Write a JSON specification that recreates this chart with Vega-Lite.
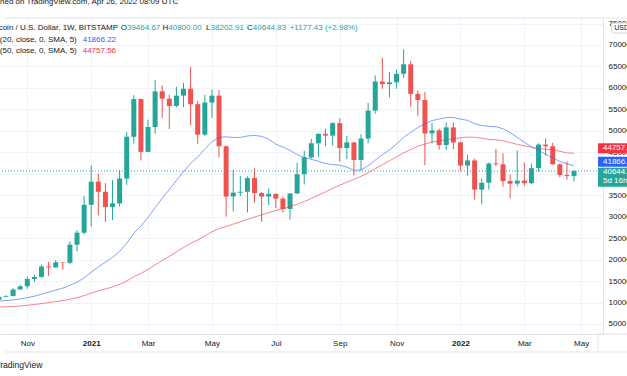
{
  "$schema": "https://vega.github.io/schema/vega-lite/v6.json",
  "width": 603,
  "height": 316,
  "autosize": {"type": "none"},
  "padding": {"left": 0, "top": 18, "right": 24, "bottom": 42},
  "background": "#ffffff",
  "config": {
    "font": "Liberation Sans",
    "view": {"stroke": null},
    "axis": {"labelOverlap": false, "labelFlush": false, "labelBound": false, "ticks": false, "domainColor": "#e0e3eb", "gridColor": "#f0f3fa", "labelFontSize": 8, "labelColor": "#131722", "labelPadding": 5, "tickCount": 40}
  },
  "title": {"text": "Published on TradingView.com, Apr 26, 2022 08:09 UTC", "anchor": "start", "frame": "group", "orient": "top", "offset": 8, "baseline": "middle", "dx": -21.8, "fontSize": 8, "fontWeight": "normal", "color": "#131722"},
  "datasets": {
    "bars": [
      {"d":"2020-10-05","o":10670,"h":11490,"l":10530,"c":11370,"m20":10334,"m50":8950},
      {"d":"2020-10-12","o":11370,"h":11720,"l":11200,"c":11530,"m20":10438,"m50":8997},
      {"d":"2020-10-19","o":11530,"h":13350,"l":11420,"c":13030,"m20":10602,"m50":9081},
      {"d":"2020-10-26","o":13030,"h":14100,"l":12980,"c":13780,"m20":10824,"m50":9187},
      {"d":"2020-11-02","o":13780,"h":15960,"l":13200,"c":15480,"m20":11133,"m50":9358},
      {"d":"2020-11-09","o":15480,"h":16480,"l":14800,"c":15970,"m20":11475,"m50":9529},
      {"d":"2020-11-16","o":15970,"h":18800,"l":15800,"c":18400,"m20":11942,"m50":9747},
      {"d":"2020-11-23","o":18400,"h":19480,"l":16200,"c":18180,"m20":12389,"m50":9969},
      {"d":"2020-11-30","o":18180,"h":19900,"l":18100,"c":19360,"m20":12899,"m50":10206},
      {"d":"2020-12-07","o":19360,"h":19420,"l":17600,"c":19270,"m20":13365,"m50":10444},
      {"d":"2020-12-14","o":19270,"h":24250,"l":19000,"c":23480,"m20":13986,"m50":10758},
      {"d":"2020-12-21","o":23480,"h":26870,"l":21900,"c":26270,"m20":14715,"m50":11120},
      {"d":"2020-12-28","o":26270,"h":34800,"l":25900,"c":32780,"m20":15761,"m50":11602},
      {"d":"2021-01-04","o":32780,"h":41950,"l":27700,"c":38150,"m20":17086,"m50":12193},
      {"d":"2021-01-11","o":38150,"h":40100,"l":30300,"c":35800,"m20":18291,"m50":12722},
      {"d":"2021-01-18","o":35800,"h":37850,"l":28800,"c":32250,"m20":19391,"m50":13164},
      {"d":"2021-01-25","o":32250,"h":38500,"l":29200,"c":33100,"m20":20529,"m50":13628},
      {"d":"2021-02-01","o":33100,"h":40900,"l":32300,"c":38900,"m20":21928,"m50":14212},
      {"d":"2021-02-08","o":38900,"h":49700,"l":37400,"c":48600,"m20":23819,"m50":15014},
      {"d":"2021-02-15","o":48600,"h":58300,"l":47000,"c":57400,"m20":26155,"m50":16001},
      {"d":"2021-02-22","o":57400,"h":57500,"l":43100,"c":45100,"m20":27842,"m50":16796},
      {"d":"2021-03-01","o":45100,"h":52600,"l":45000,"c":50900,"m20":29810,"m50":17697},
      {"d":"2021-03-08","o":50900,"h":61800,"l":49300,"c":59200,"m20":32119,"m50":18763},
      {"d":"2021-03-15","o":59200,"h":60600,"l":53000,"c":57500,"m20":34305,"m50":19778},
      {"d":"2021-03-22","o":57500,"h":58400,"l":50400,"c":55800,"m20":36321,"m50":20756},
      {"d":"2021-03-29","o":55800,"h":60200,"l":55500,"c":58200,"m20":38432,"m50":21777},
      {"d":"2021-04-05","o":58200,"h":61200,"l":55500,"c":59800,"m20":40502,"m50":22819},
      {"d":"2021-04-12","o":59800,"h":64900,"l":51300,"c":56200,"m20":42403,"m50":23765},
      {"d":"2021-04-19","o":56200,"h":57000,"l":47000,"c":49100,"m20":43890,"m50":24572},
      {"d":"2021-04-26","o":49100,"h":58400,"l":48800,"c":56600,"m20":45757,"m50":25511},
      {"d":"2021-05-03","o":56600,"h":59600,"l":53000,"c":58200,"m20":47493,"m50":26500},
      {"d":"2021-05-10","o":58200,"h":59500,"l":43800,"c":46400,"m20":48499,"m50":27239},
      {"d":"2021-05-17","o":46400,"h":46600,"l":30000,"c":34700,"m20":48595,"m50":27738},
      {"d":"2021-05-24","o":34700,"h":40900,"l":31200,"c":35600,"m20":48468,"m50":28263},
      {"d":"2021-05-31","o":35600,"h":39500,"l":34800,"c":35800,"m20":48468,"m50":28793},
      {"d":"2021-06-07","o":35800,"h":39400,"l":31000,"c":39000,"m20":48805,"m50":29391},
      {"d":"2021-06-14","o":39000,"h":41300,"l":33300,"c":35500,"m20":48925,"m50":29919},
      {"d":"2021-06-21","o":35500,"h":35800,"l":28800,"c":34700,"m20":48715,"m50":30429},
      {"d":"2021-06-28","o":34700,"h":36600,"l":32700,"c":35300,"m20":48050,"m50":30951},
      {"d":"2021-07-05","o":35300,"h":35400,"l":32000,"c":34200,"m20":46890,"m50":31437},
      {"d":"2021-07-12","o":34200,"h":34700,"l":31000,"c":31800,"m20":46225,"m50":31851},
      {"d":"2021-07-19","o":31800,"h":35500,"l":29300,"c":35400,"m20":45450,"m50":32326},
      {"d":"2021-07-26","o":35400,"h":42600,"l":35300,"c":39900,"m20":44485,"m50":32886},
      {"d":"2021-08-02","o":39900,"h":45300,"l":37500,"c":43800,"m20":43800,"m50":33529},
      {"d":"2021-08-09","o":43800,"h":48100,"l":43500,"c":47100,"m20":43365,"m50":34237},
      {"d":"2021-08-16","o":47100,"h":49400,"l":43900,"c":49300,"m20":42920,"m50":35018},
      {"d":"2021-08-23","o":49300,"h":50500,"l":46400,"c":48900,"m20":42375,"m50":35790},
      {"d":"2021-08-30","o":48900,"h":52000,"l":46600,"c":51800,"m20":42155,"m50":36607},
      {"d":"2021-09-06","o":51800,"h":52900,"l":42800,"c":46000,"m20":42000,"m50":37311},
      {"d":"2021-09-13","o":46000,"h":48800,"l":43400,"c":47300,"m20":41535,"m50":38044},
      {"d":"2021-09-20","o":47300,"h":47400,"l":39600,"c":43200,"m20":40785,"m50":38681},
      {"d":"2021-09-27","o":43200,"h":49200,"l":40800,"c":48200,"m20":40875,"m50":39414},
      {"d":"2021-10-04","o":48200,"h":56500,"l":47100,"c":54700,"m20":41875,"m50":40247},
      {"d":"2021-10-11","o":54700,"h":62900,"l":54000,"c":61500,"m20":43170,"m50":41202},
      {"d":"2021-10-18","o":61500,"h":67000,"l":59800,"c":60900,"m20":44425,"m50":42110},
      {"d":"2021-10-25","o":60900,"h":63700,"l":57800,"c":61300,"m20":45540,"m50":43017},
      {"d":"2021-11-01","o":61300,"h":64300,"l":59800,"c":63300,"m20":46930,"m50":43915},
      {"d":"2021-11-08","o":63300,"h":69000,"l":62300,"c":65500,"m20":48470,"m50":44861},
      {"d":"2021-11-15","o":65500,"h":66300,"l":55600,"c":58600,"m20":49635,"m50":45646},
      {"d":"2021-11-22","o":58600,"h":59400,"l":53500,"c":57200,"m20":50785,"m50":46405},
      {"d":"2021-11-29","o":57200,"h":59100,"l":42000,"c":49400,"m20":51665,"m50":46923},
      {"d":"2021-12-06","o":49400,"h":51900,"l":47100,"c":50100,"m20":52400,"m50":47400},
      {"d":"2021-12-13","o":50100,"h":50500,"l":45600,"c":46700,"m20":52740,"m50":47678},
      {"d":"2021-12-20","o":46700,"h":51900,"l":45600,"c":50800,"m20":53090,"m50":47931},
      {"d":"2021-12-27","o":50800,"h":52000,"l":45700,"c":47300,"m20":53100,"m50":48161},
      {"d":"2022-01-03","o":47300,"h":47500,"l":40600,"c":41900,"m20":52730,"m50":48354},
      {"d":"2022-01-10","o":41900,"h":44400,"l":39600,"c":43100,"m20":52440,"m50":48554},
      {"d":"2022-01-17","o":43100,"h":43500,"l":34000,"c":36300,"m20":51665,"m50":48502},
      {"d":"2022-01-24","o":36300,"h":38900,"l":32900,"c":37900,"m20":51260,"m50":48288},
      {"d":"2022-01-31","o":37900,"h":42600,"l":36300,"c":42400,"m20":51015,"m50":47988},
      {"d":"2022-02-07","o":42400,"h":45800,"l":41700,"c":42200,"m20":50965,"m50":47930},
      {"d":"2022-02-14","o":42200,"h":44800,"l":37000,"c":38300,"m20":50470,"m50":47678},
      {"d":"2022-02-21","o":38300,"h":39800,"l":34300,"c":37700,"m20":49620,"m50":47248},
      {"d":"2022-02-28","o":37700,"h":45400,"l":37100,"c":38400,"m20":48465,"m50":46866},
      {"d":"2022-03-07","o":38400,"h":42600,"l":37200,"c":37800,"m20":47310,"m50":46506},
      {"d":"2022-03-14","o":37800,"h":42400,"l":37600,"c":41300,"m20":46310,"m50":46168},
      {"d":"2022-03-21","o":41300,"h":47100,"l":40500,"c":46800,"m20":45485,"m50":45908},
      {"d":"2022-03-28","o":46800,"h":48200,"l":44300,"c":46400,"m20":44530,"m50":45712},
      {"d":"2022-04-04","o":46400,"h":47200,"l":42100,"c":42200,"m20":43710,"m50":45574},
      {"d":"2022-04-11","o":42200,"h":42400,"l":39200,"c":39700,"m20":42835,"m50":45236},
      {"d":"2022-04-18","o":39700,"h":42900,"l":38600,"c":39460,"m20":42338,"m50":44861},
      {"d":"2022-04-25","o":39464.67,"h":40800,"l":38202.91,"c":40644.83,"m20":41866.22,"m50":44757.56}
    ],
    "tags": [
      {"name":"ma50","p":44757.56,"t":"44757.56"},
      {"name":"ma20","p":41866.22,"t":"41866.22"},
      {"name":"last","p":40644.83,"t":"40644.83","sub":"5d 16h"},
      {"name":"currency","p":75000,"t":"USD"}
    ],
    "legend": [
      {"k":"label","t":"Bitcoin / U.S. Dollar, 1W, BITSTAMP","d":"2021-01-30T12:00:00Z","p":73961},
      {"k":"label","t":"O","d":"2021-02-08T05:00:00Z","p":73961},
      {"k":"ohlc","t":"39464.67","d":"2021-02-08T05:00:00Z","p":73961},
      {"k":"label","t":"H","d":"2021-03-20T22:30:00Z","p":73961},
      {"k":"ohlc","t":"40800.00","d":"2021-03-20T22:30:00Z","p":73961},
      {"k":"label","t":"L","d":"2021-05-01T15:00:00Z","p":73961},
      {"k":"ohlc","t":"38202.91","d":"2021-05-01T15:00:00Z","p":73961},
      {"k":"label","t":"C","d":"2021-06-12T07:40:00Z","p":73961},
      {"k":"ohlc","t":"40644.83","d":"2021-06-12T07:40:00Z","p":73961},
      {"k":"ohlc","t":"+1177.43 (+2.98%)","d":"2021-07-18T16:20:00Z","p":73961},
      {"k":"label","t":"MA (20, close, 0, SMA, 5)","d":"2020-12-20T18:40:00Z","p":71095},
      {"k":"ma20","t":"41866.22","d":"2020-12-26T14:10:00Z","p":71095},
      {"k":"label","t":"MA (50, close, 0, SMA, 5)","d":"2020-12-20T18:40:00Z","p":68602},
      {"k":"ma50","t":"44757.56","d":"2020-12-26T14:10:00Z","p":68602}
    ]
  },
  "layer": [
    {
      "data": {"name": "bars"},
      "mark": {"type": "rule", "strokeWidth": 1},
      "encoding": {
        "x": {"field": "d", "type": "temporal",
          "scale": {"type": "utc", "domain": [{"year":2020,"month":10,"date":11,"utc":true},{"year":2022,"month":5,"date":18,"hours":15,"utc":true}]},
          "axis": {"orient": "bottom", "title": "TradingView", "titleAnchor": "start", "titleAlign": "left", "titleX": -5.3, "titleY": 30, "titleBaseline": "middle", "titleFontWeight": "normal", "titleFontSize": 8.6, "titleColor": "#131722",
            "tickCount": 40,
            "values": [{"year":2020,"month":11,"date":2,"utc":true},{"year":2021,"month":1,"date":4,"utc":true},{"year":2021,"month":3,"date":1,"utc":true},{"year":2021,"month":5,"date":3,"utc":true},{"year":2021,"month":7,"date":5,"utc":true},{"year":2021,"month":9,"date":6,"utc":true},{"year":2021,"month":11,"date":1,"utc":true},{"year":2022,"month":1,"date":3,"utc":true},{"year":2022,"month":3,"date":7,"utc":true},{"year":2022,"month":5,"date":2,"utc":true}],
            "labelExpr": "utcmonth(datum.value) == 0 ? utcFormat(datum.value, '%Y') : utcFormat(datum.value, '%b')",
            "labelFontWeight": {"condition": {"test": "utcmonth(datum.value) == 0", "value": "bold"}, "value": "normal"},
            "grid": true}},
        "y": {"field": "l", "type": "quantitative", "title": null,
          "scale": {"domain": [2666, 76290], "nice": false, "zero": false},
          "axis": {"orient": "right", "tickCount": 40, "values": [5000,10000,15000,20000,25000,30000,35000,40000,45000,50000,55000,60000,65000,70000,75000],
            "format": "d", "labelOverlap": false, "grid": true}},
        "y2": {"field": "h"},
        "color": {"condition": {"test": "datum.c < datum.o", "value": "#ef5350"}, "value": "#26a69a"}
      }
    },
    {
      "data": {"values": [{"edge": "top"}]},
      "mark": {"type": "rule", "strokeWidth": 1, "color": "#e0e3eb"},
      "encoding": {
        "x": {"datum": {"year":2020,"month":10,"date":11,"utc":true}, "type": "temporal", "scale": {"type": "utc", "domain": [{"year":2020,"month":10,"date":11,"utc":true},{"year":2022,"month":5,"date":18,"hours":15,"utc":true}]}},
        "x2": {"datum": {"year":2022,"month":6,"date":30,"utc":true}},
        "y": {"datum": 76290, "type": "quantitative", "scale": {"domain": [2666, 76290], "nice": false, "zero": false}}
      }
    },
    {
      "data": {"values": [{"edge": "axis"}]},
      "mark": {"type": "rule", "strokeWidth": 1, "color": "#e0e3eb"},
      "encoding": {
        "x": {"datum": {"year":2022,"month":5,"date":18,"hours":15,"utc":true}, "type": "temporal", "scale": {"type": "utc", "domain": [{"year":2020,"month":10,"date":11,"utc":true},{"year":2022,"month":5,"date":18,"hours":15,"utc":true}]}},
        "x2": {"datum": {"year":2022,"month":6,"date":30,"utc":true}},
        "y": {"datum": 2666, "type": "quantitative", "scale": {"domain": [2666, 76290], "nice": false, "zero": false}}
      }
    },
    {
      "data": {"values": [{"edge": "bottom"}]},
      "mark": {"type": "rule", "strokeWidth": 1, "color": "#e0e3eb"},
      "encoding": {
        "x": {"datum": {"year":2020,"month":10,"date":11,"utc":true}, "type": "temporal", "scale": {"type": "utc", "domain": [{"year":2020,"month":10,"date":11,"utc":true},{"year":2022,"month":5,"date":18,"hours":15,"utc":true}]}},
        "x2": {"datum": {"year":2022,"month":6,"date":30,"utc":true}},
        "y": {"datum": -1528, "type": "quantitative", "scale": {"domain": [2666, 76290], "nice": false, "zero": false}}
      }
    },
    {
      "data": {"values": [{"edge": "separator"}]},
      "mark": {"type": "rule", "strokeWidth": 1, "color": "#e0e3eb"},
      "encoding": {
        "x": {"datum": {"year":2022,"month":5,"date":18,"hours":15,"utc":true}, "type": "temporal", "scale": {"type": "utc", "domain": [{"year":2020,"month":10,"date":11,"utc":true},{"year":2022,"month":5,"date":18,"hours":15,"utc":true}]}},
        "y": {"datum": 2666, "type": "quantitative", "scale": {"domain": [2666, 76290], "nice": false, "zero": false}},
        "y2": {"datum": -1528}
      }
    },
    {
      "data": {"name": "bars"},
      "mark": {"type": "bar", "size": 5},
      "encoding": {
        "x": {"field": "d", "type": "temporal", "scale": {"type": "utc", "domain": [{"year":2020,"month":10,"date":11,"utc":true},{"year":2022,"month":5,"date":18,"hours":15,"utc":true}]}},
        "y": {"field": "o", "type": "quantitative", "title": null, "scale": {"domain": [2666, 76290], "nice": false, "zero": false}},
        "y2": {"field": "c"},
        "color": {"condition": {"test": "datum.c < datum.o", "value": "#ef5350"}, "value": "#26a69a"}
      }
    },
    {
      "data": {"name": "bars"},
      "mark": {"type": "line", "strokeWidth": 1, "color": "#2962ff", "opacity": 0.6},
      "encoding": {
        "x": {"field": "d", "type": "temporal", "scale": {"type": "utc", "domain": [{"year":2020,"month":10,"date":11,"utc":true},{"year":2022,"month":5,"date":18,"hours":15,"utc":true}]}},
        "y": {"field": "m20", "type": "quantitative", "title": null, "scale": {"domain": [2666, 76290], "nice": false, "zero": false}}
      }
    },
    {
      "data": {"name": "bars"},
      "mark": {"type": "line", "strokeWidth": 1, "color": "#f23645", "opacity": 0.6},
      "encoding": {
        "x": {"field": "d", "type": "temporal", "scale": {"type": "utc", "domain": [{"year":2020,"month":10,"date":11,"utc":true},{"year":2022,"month":5,"date":18,"hours":15,"utc":true}]}},
        "y": {"field": "m50", "type": "quantitative", "title": null, "scale": {"domain": [2666, 76290], "nice": false, "zero": false}}
      }
    },
    {
      "data": {"name": "tags"},
      "transform": [{"filter": "datum.name == 'last'"}],
      "mark": {"type": "rule", "strokeWidth": 1, "strokeDash": [1, 2], "color": "#26a69a"},
      "encoding": {
        "y": {"field": "p", "type": "quantitative", "title": null, "scale": {"domain": [2666, 76290], "nice": false, "zero": false}}
      }
    },
    {
      "data": {"name": "tags"},
      "transform": [{"filter": "datum.name == 'ma50'"}],
      "mark": {"type": "rect", "color": "#f23645", "yOffset": -10, "y2Offset": 0},
      "encoding": {
        "x": {"datum": {"year":2022,"month":5,"date":18,"hours":15,"utc":true}, "type": "temporal", "scale": {"type": "utc", "domain": [{"year":2020,"month":10,"date":11,"utc":true},{"year":2022,"month":5,"date":18,"hours":15,"utc":true}]}},
        "x2": {"datum": {"year":2022,"month":6,"date":30,"utc":true}},
        "y": {"field": "p", "type": "quantitative", "title": null, "scale": {"domain": [2666, 76290], "nice": false, "zero": false}},
        "y2": {"field": "p"}
      }
    },
    {
      "data": {"name": "tags"},
      "transform": [{"filter": "datum.name == 'ma20'"}],
      "mark": {"type": "rect", "color": "#2962ff", "yOffset": -9, "y2Offset": 1},
      "encoding": {
        "x": {"datum": {"year":2022,"month":5,"date":18,"hours":15,"utc":true}, "type": "temporal", "scale": {"type": "utc", "domain": [{"year":2020,"month":10,"date":11,"utc":true},{"year":2022,"month":5,"date":18,"hours":15,"utc":true}]}},
        "x2": {"datum": {"year":2022,"month":6,"date":30,"utc":true}},
        "y": {"field": "p", "type": "quantitative", "title": null, "scale": {"domain": [2666, 76290], "nice": false, "zero": false}},
        "y2": {"field": "p"}
      }
    },
    {
      "data": {"name": "tags"},
      "transform": [{"filter": "datum.name == 'last'"}],
      "mark": {"type": "rect", "color": "#26a69a", "yOffset": -3.3, "y2Offset": 15.7},
      "encoding": {
        "x": {"datum": {"year":2022,"month":5,"date":18,"hours":15,"utc":true}, "type": "temporal", "scale": {"type": "utc", "domain": [{"year":2020,"month":10,"date":11,"utc":true},{"year":2022,"month":5,"date":18,"hours":15,"utc":true}]}},
        "x2": {"datum": {"year":2022,"month":6,"date":30,"utc":true}},
        "y": {"field": "p", "type": "quantitative", "title": null, "scale": {"domain": [2666, 76290], "nice": false, "zero": false}},
        "y2": {"field": "p"}
      }
    },
    {
      "data": {"name": "tags"},
      "transform": [{"filter": "datum.name == 'currency'"}],
      "mark": {"type": "rect", "fill": "#ffffff", "stroke": "#d1d4dc", "strokeWidth": 1, "cornerRadius": 2, "yOffset": -0.5, "y2Offset": 9.5},
      "encoding": {
        "x": {"datum": {"year":2022,"month":6,"date":1,"hours":5,"utc":true}, "type": "temporal", "scale": {"type": "utc", "domain": [{"year":2020,"month":10,"date":11,"utc":true},{"year":2022,"month":5,"date":18,"hours":15,"utc":true}]}},
        "x2": {"datum": {"year":2022,"month":6,"date":30,"utc":true}},
        "y": {"field": "p", "type": "quantitative", "title": null, "scale": {"domain": [2666, 76290], "nice": false, "zero": false}},
        "y2": {"field": "p"}
      }
    },
    {
      "data": {"name": "tags"},
      "transform": [{"filter": "datum.name == 'currency'"}],
      "mark": {"type": "text", "color": "#131722", "fontSize": 7, "align": "left", "baseline": "middle", "dx": 2.5, "dy": 4.5},
      "encoding": {
        "x": {"datum": {"year":2022,"month":6,"date":1,"hours":5,"utc":true}, "type": "temporal", "scale": {"type": "utc", "domain": [{"year":2020,"month":10,"date":11,"utc":true},{"year":2022,"month":5,"date":18,"hours":15,"utc":true}]}},
        "y": {"field": "p", "type": "quantitative", "title": null, "scale": {"domain": [2666, 76290], "nice": false, "zero": false}},
        "text": {"field": "t"}
      }
    },
    {
      "data": {"name": "tags"},
      "transform": [{"filter": "datum.name == 'ma50'"}],
      "mark": {"type": "text", "color": "#ffffff", "fontSize": 8, "align": "left", "baseline": "middle", "dx": 5, "dy": -5},
      "encoding": {
        "x": {"datum": {"year":2022,"month":5,"date":18,"hours":15,"utc":true}, "type": "temporal", "scale": {"type": "utc", "domain": [{"year":2020,"month":10,"date":11,"utc":true},{"year":2022,"month":5,"date":18,"hours":15,"utc":true}]}},
        "y": {"field": "p", "type": "quantitative", "title": null, "scale": {"domain": [2666, 76290], "nice": false, "zero": false}},
        "text": {"field": "t"}
      }
    },
    {
      "data": {"name": "tags"},
      "transform": [{"filter": "datum.name == 'ma20'"}],
      "mark": {"type": "text", "color": "#ffffff", "fontSize": 8, "align": "left", "baseline": "middle", "dx": 5, "dy": -4},
      "encoding": {
        "x": {"datum": {"year":2022,"month":5,"date":18,"hours":15,"utc":true}, "type": "temporal", "scale": {"type": "utc", "domain": [{"year":2020,"month":10,"date":11,"utc":true},{"year":2022,"month":5,"date":18,"hours":15,"utc":true}]}},
        "y": {"field": "p", "type": "quantitative", "title": null, "scale": {"domain": [2666, 76290], "nice": false, "zero": false}},
        "text": {"field": "t"}
      }
    },
    {
      "data": {"name": "tags"},
      "transform": [{"filter": "datum.name == 'last'"}],
      "mark": {"type": "text", "color": "#ffffff", "fontSize": 8, "align": "left", "baseline": "middle", "dx": 5, "dy": 1.5},
      "encoding": {
        "x": {"datum": {"year":2022,"month":5,"date":18,"hours":15,"utc":true}, "type": "temporal", "scale": {"type": "utc", "domain": [{"year":2020,"month":10,"date":11,"utc":true},{"year":2022,"month":5,"date":18,"hours":15,"utc":true}]}},
        "y": {"field": "p", "type": "quantitative", "title": null, "scale": {"domain": [2666, 76290], "nice": false, "zero": false}},
        "text": {"field": "t"}
      }
    },
    {
      "data": {"name": "tags"},
      "transform": [{"filter": "datum.name == 'last'"}],
      "mark": {"type": "text", "color": "#ffffff", "fontSize": 8, "align": "left", "baseline": "middle", "dx": 5, "dy": 10.5},
      "encoding": {
        "x": {"datum": {"year":2022,"month":5,"date":18,"hours":15,"utc":true}, "type": "temporal", "scale": {"type": "utc", "domain": [{"year":2020,"month":10,"date":11,"utc":true},{"year":2022,"month":5,"date":18,"hours":15,"utc":true}]}},
        "y": {"field": "p", "type": "quantitative", "title": null, "scale": {"domain": [2666, 76290], "nice": false, "zero": false}},
        "text": {"field": "sub"}
      }
    },
    {
      "data": {"name": "legend"},
      "transform": [{"filter": "datum.k == 'label'"}],
      "mark": {"type": "text", "color": "#131722", "fontSize": 8, "align": "right", "baseline": "middle"},
      "encoding": {
        "x": {"field": "d", "type": "temporal", "scale": {"type": "utc", "domain": [{"year":2020,"month":10,"date":11,"utc":true},{"year":2022,"month":5,"date":18,"hours":15,"utc":true}]}},
        "y": {"field": "p", "type": "quantitative", "title": null, "scale": {"domain": [2666, 76290], "nice": false, "zero": false}},
        "text": {"field": "t"}
      }
    },
    {
      "data": {"name": "legend"},
      "transform": [{"filter": "datum.k != 'label'"}],
      "mark": {"type": "text", "fontSize": 8, "align": "left", "baseline": "middle"},
      "encoding": {
        "x": {"field": "d", "type": "temporal", "scale": {"type": "utc", "domain": [{"year":2020,"month":10,"date":11,"utc":true},{"year":2022,"month":5,"date":18,"hours":15,"utc":true}]}},
        "y": {"field": "p", "type": "quantitative", "title": null, "scale": {"domain": [2666, 76290], "nice": false, "zero": false}},
        "text": {"field": "t"},
        "color": {"field": "k", "type": "nominal", "legend": null, "scale": {"domain": ["ohlc", "ma20", "ma50"], "range": ["#26a69a", "#2962ff", "#f23645"]}}
      }
    }
  ]
}
